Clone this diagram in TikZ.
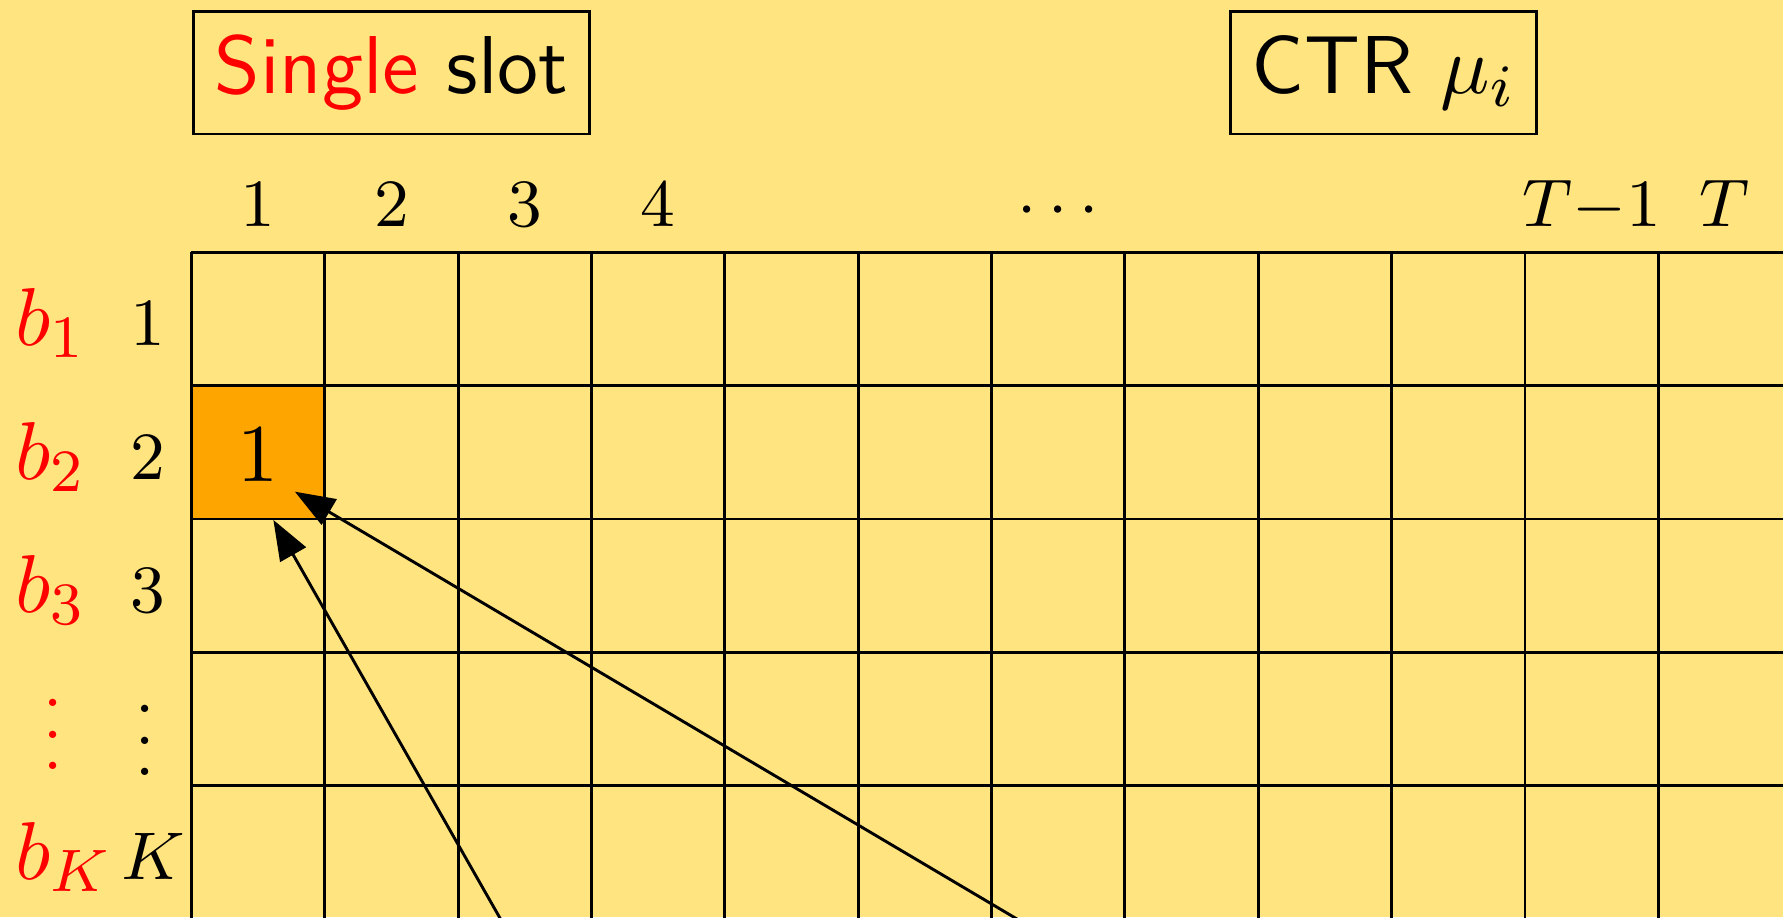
\documentclass[tikz,border=0pt]{standalone}
\usetikzlibrary{arrows.meta}
\definecolor{bgyellow}{RGB}{255,228,128}
\definecolor{hitorange}{RGB}{255,165,0}
\newcommand\enlarged[1]{\scalebox{1.6}{#1}}
\newcommand\myvdots{\vbox{\baselineskip=4.2pt\lineskiplimit=0pt\hbox{.}\hbox{.}\hbox{.}}}
\begin{document}
\begin{tikzpicture}[
  bigfont/.style={font=\fontsize{10.95}{13.6}\selectfont},
  smallfont/.style={font=\fontsize{9}{11}\selectfont},
  gridline/.style={line width=0.62pt},
  titlebox/.style={draw, line width=0.62pt, inner xsep=0.16cm, inner ysep=0pt, minimum height=0.915cm, font=\fontsize{10.95}{13.6}\selectfont\sffamily},
  collabel/.style={smallfont, anchor=base, inner sep=0pt},
  rowb/.style={bigfont, anchor=base west, text=red, inner sep=0pt},
  rownum/.style={smallfont, anchor=base, inner sep=0pt},
  hitcell/.style={rectangle, fill=hitorange, draw=none, minimum size=1cm, inner sep=0pt, outer sep=0pt},
  hitlabel/.style={bigfont, anchor=base, inner sep=0pt},
  pointer/.style={line width=0.62pt, -{Triangle[length=0.3cm,width=0.22cm]}}
]
\useasboundingbox (-1.436,-4.985) rectangle (11.935,1.892);
\fill[bgyellow] (-1.436,-4.985) rectangle (11.935,1.892);
\clip (-1.436,-4.985) rectangle (11.935,1.892);

% highlighted cell
\node[hitcell] (hit) at (0.5,-1.5) {};
\node[hitlabel] (hitone) at (0.5,-1.72) {\enlarged{$1$}};

% grid
\draw[gridline] (0,-5.6) grid (12.6,0);

% title boxes
\node[titlebox] (single) at (1.5,1.345) {\enlarged{{\color{red}Single} slot}};
\node[titlebox] (ctr) at (8.94,1.345) {\enlarged{CTR $\mu_i$}};

% column labels
\node[collabel] (c1) at (0.5,0.19) {\enlarged{$1$}};
\node[collabel] (c2) at (1.5,0.19) {\enlarged{$2$}};
\node[collabel] (c3) at (2.5,0.19) {\enlarged{$3$}};
\node[collabel] (c4) at (3.5,0.19) {\enlarged{$4$}};
\node[collabel] (cdots) at (6.5,0.19) {\enlarged{$\cdots$}};
\node[collabel] (cTm) at (10.5,0.19) {\enlarged{$T{-}1$}};
\node[collabel] (cT) at (11.5,0.19) {\enlarged{$T$}};

% row labels
\node[rowb] (b1) at (-1.33,-0.7) {\enlarged{$b_1$}};
\node[rowb] (b2) at (-1.33,-1.705) {\enlarged{$b_2$}};
\node[rowb] (b3) at (-1.33,-2.7) {\enlarged{$b_3$}};
\node[rowb] (bK) at (-1.33,-4.7) {\enlarged{$b_K$}};
\node[smallfont, anchor=base, text=red, inner sep=0pt] (bdots) at (-1.037,-3.882) {\enlarged{\myvdots}};

\node[rownum] (r1) at (-0.33,-0.7) {\enlarged{$1$}};
\node[rownum] (r2) at (-0.33,-1.705) {\enlarged{$2$}};
\node[rownum] (r3) at (-0.33,-2.7) {\enlarged{$3$}};
\node[rownum] (rK) at (-0.29,-4.7) {\enlarged{$K$}};
\node[smallfont, anchor=base, inner sep=0pt] (rdots) at (-0.345,-3.926) {\enlarged{\myvdots}};

% arrows
\coordinate (s1) at (2.659,-5.6);
\coordinate (t1) at (0.614,-2.007);
\coordinate (s2) at (7.205,-5.6);
\coordinate (t2) at (0.775,-1.795);
\draw[pointer] (s1) -- (t1);
\draw[pointer] (s2) -- (t2);
\end{tikzpicture}
\end{document}
